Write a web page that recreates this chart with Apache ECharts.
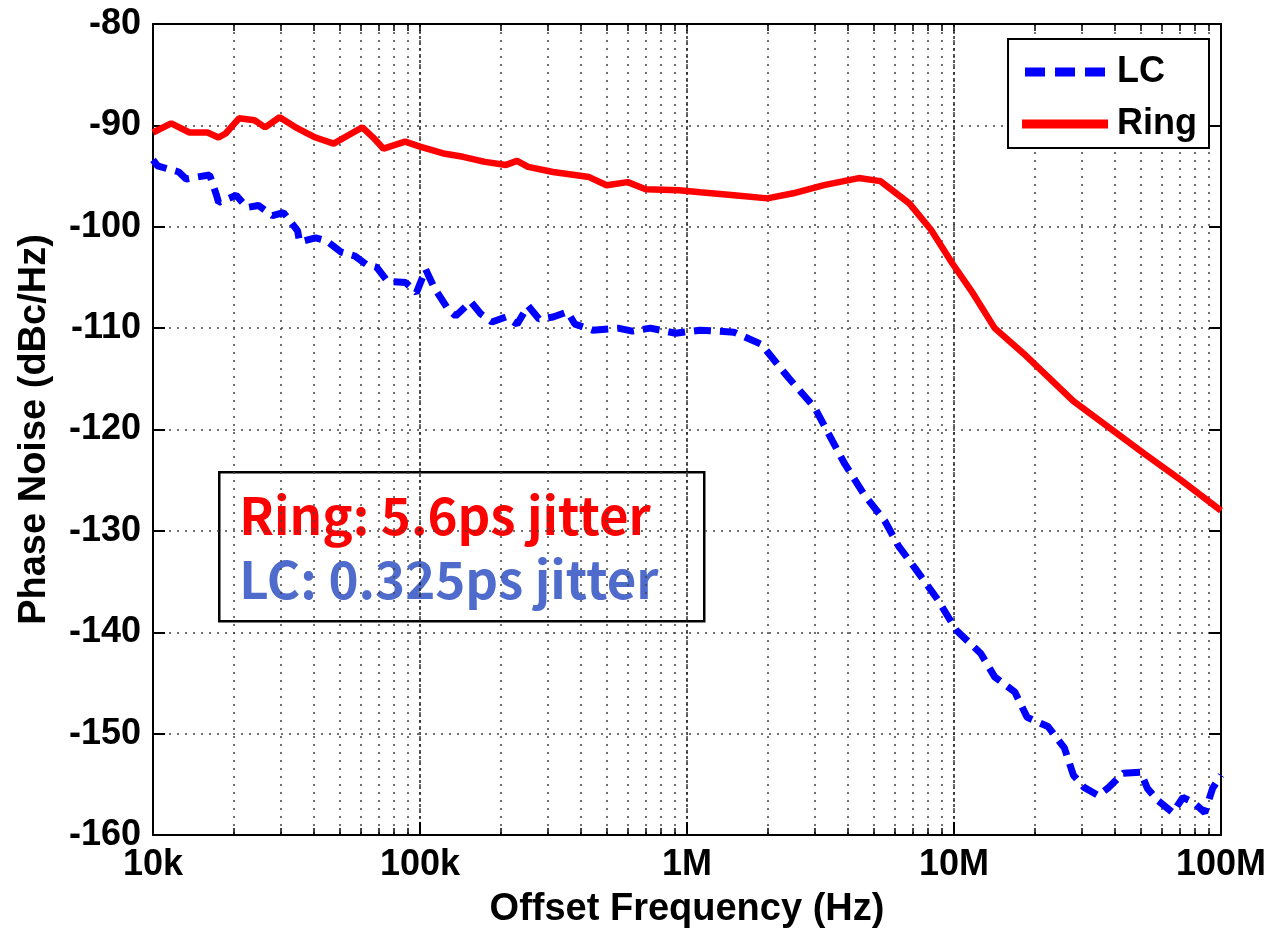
<!DOCTYPE html>
<html>
<head>
<meta charset="utf-8">
<script src="https://cdn.jsdelivr.net/npm/echarts@6/dist/echarts.min.js"></script>
<style>html,body{margin:0;padding:0;background:#fff}#c{width:1272px;height:929px}</style>
</head>
<body>
<div id="c"></div>
<script>
// ---- data ----
const ringFreq = [10000,11700,13700,16000,17600,18700,21000,24000,26300,29800,34800,40600,47500,53700,60800,66800,73000,88000,100000,124000,145000,175000,210000,231000,254000,315000,430000,500000,600000,700000,933000,1120000,1500000,2000000,2500000,3260000,4400000,5300000,6800000,8200000,9850000,11800000,14200000,18200000,28000000,38000000,51700000,70000000,100000000];
const ringDb = [-90.7,-89.8,-90.7,-90.7,-91.2,-90.8,-89.3,-89.5,-90.2,-89.2,-90.3,-91.2,-91.8,-91.0,-90.2,-91.2,-92.3,-91.6,-92.1,-92.8,-93.1,-93.6,-93.9,-93.5,-94.1,-94.6,-95.1,-95.9,-95.6,-96.3,-96.4,-96.6,-96.9,-97.2,-96.7,-95.9,-95.2,-95.5,-97.7,-100.3,-103.6,-106.6,-110.0,-112.5,-117.2,-119.8,-122.4,-124.9,-128.0];
const lcFreq = [10000,10400,12500,13300,14600,16300,17300,17600,20500,22500,24800,28000,30800,34800,35400,40600,44700,50600,57100,62800,68900,75700,88300,97000,105000,113000,128000,136000,155000,169000,186000,210000,231000,254000,279000,315000,357000,380000,444000,551000,624000,728000,906000,1120000,1500000,1900000,2400000,3000000,3500000,3900000,4600000,5500000,6200000,7200000,8700000,10200000,12600000,14200000,16900000,18800000,22500000,25900000,28000000,30700000,34700000,38000000,43000000,50000000,53000000,58000000,66000000,72000000,79000000,87000000,93000000,100000000];
const lcDb = [-93.4,-94.0,-94.6,-95.3,-95.1,-94.9,-96.9,-97.6,-96.9,-98.1,-97.9,-98.9,-98.6,-100.4,-101.5,-101.1,-101.4,-102.5,-102.9,-103.7,-104.0,-105.4,-105.5,-106.5,-104.2,-106.0,-108.2,-108.8,-107.4,-108.6,-109.4,-108.9,-109.6,-107.8,-109.1,-108.9,-108.4,-109.6,-110.2,-110.0,-110.3,-110.0,-110.5,-110.2,-110.4,-111.6,-114.9,-117.8,-121.1,-123.4,-126.4,-129.0,-131.5,-133.8,-136.8,-139.8,-142.1,-144.4,-145.9,-148.4,-149.3,-151.4,-154.1,-155.3,-156.1,-155.3,-153.9,-153.8,-155.4,-156.6,-157.8,-156.3,-156.8,-157.8,-155.4,-154.1];
const xTickValues = [10000,100000,1000000,10000000,100000000];
const xTickLabels = ['10k','100k','1M','10M','100M'];
const yMin = -160, yMax = -80, yStep = 10;
const seriesNames = ['LC','Ring'];
const noteLines = ['Ring: 5.6ps jitter','LC: 0.325ps jitter'];

// minor log tick values 2..9 within each decade
const allTicks = [];
for (let d = 0; d < xTickValues.length; d++) {
  allTicks.push(xTickValues[d]);
  if (d < xTickValues.length - 1) for (let k = 2; k <= 9; k++) allTicks.push(xTickValues[d] * k);
}

const FONT = '"Liberation Sans", Arial, sans-serif';
const chart = echarts.init(document.getElementById('c'));
const dotted = {type: [2, 6], color: '#444', width: 1.5};

chart.setOption({
  backgroundColor: '#fff',
  animation: false,
  grid: {left: 153, top: 24, right: 51, bottom: 94, containLabel: false, outerBoundsMode: 'none'},
  legend: {
    right: 63, top: 39, orient: 'vertical',
    data: [
      {name: seriesNames[0], icon: 'path://M0,0h20v9h-20zM30,0h20v9h-20zM60,0h20v9h-20z'},
      {name: seriesNames[1], icon: 'path://M0,0h86v9h-86z'}
    ],
    itemWidth: 86, itemHeight: 9, itemGap: 16,
    padding: [15, 12, 6, 14],
    borderColor: '#000', borderWidth: 2, backgroundColor: '#fff',
    textStyle: {fontFamily: FONT, fontWeight: 'bold', fontSize: 36, color: '#000', padding: [0, 0, 0, 4]}
  },
  xAxis: [
    {
      type: 'log', logBase: 10, min: 1e4, max: 1e8, position: 'bottom',
      name: 'Offset Frequency (Hz)', nameLocation: 'middle', nameGap: 56,
      nameTextStyle: {fontFamily: FONT, fontWeight: 'bold', fontSize: 38, color: '#000'},
      axisLine: {show: true, onZero: false, lineStyle: {color: '#000', width: 2}},
      axisTick: {show: true, inside: true, length: 7, customValues: allTicks, lineStyle: {color: '#000', width: 1.5}},
      axisLabel: {
        show: true, margin: 12, customValues: xTickValues,
        fontFamily: FONT, fontWeight: 'bold', fontSize: 36, color: '#000',
        formatter: v => { const i = xTickValues.findIndex(t => Math.abs(t - v) / t < 1e-6); return i >= 0 ? xTickLabels[i] : ''; }
      },
      splitLine: {show: true, lineStyle: dotted},
      minorTick: {show: false}, minorSplitLine: {show: false}
    },
    {
      type: 'log', logBase: 10, min: 1e4, max: 1e8, position: 'bottom',
      axisLine: {show: false},
      axisTick: {show: true, inside: true, length: 13, customValues: xTickValues, lineStyle: {color: '#000', width: 2}},
      axisLabel: {show: false},
      splitLine: {show: true, lineStyle: {type: [3, 3], color: '#222', width: 1.5}}
    },
    {
      type: 'log', logBase: 10, min: 1e4, max: 1e8, position: 'top',
      axisLine: {show: true, onZero: false, lineStyle: {color: '#000', width: 2}},
      axisTick: {show: true, inside: true, length: 7, customValues: allTicks, lineStyle: {color: '#000', width: 1.5}},
      axisLabel: {show: false}, splitLine: {show: false}
    }
  ],
  yAxis: [
    {
      type: 'value', min: yMin, max: yMax, interval: yStep, position: 'left',
      name: 'Phase Noise (dBc/Hz)', nameLocation: 'middle', nameGap: 99,
      nameTextStyle: {fontFamily: FONT, fontWeight: 'bold', fontSize: 38, color: '#000'},
      axisLine: {show: true, onZero: false, lineStyle: {color: '#000', width: 2}},
      axisTick: {show: true, inside: true, length: 12, lineStyle: {color: '#000', width: 2}},
      axisLabel: {margin: 12, fontFamily: FONT, fontWeight: 'bold', fontSize: 36, color: '#000'},
      splitLine: {show: true, lineStyle: dotted}
    },
    {
      type: 'value', min: yMin, max: yMax, interval: yStep, position: 'right',
      axisLine: {show: true, onZero: false, lineStyle: {color: '#000', width: 2}},
      axisTick: {show: true, inside: true, length: 12, lineStyle: {color: '#000', width: 2}},
      axisLabel: {show: false}, splitLine: {show: false}
    }
  ],
  series: [
    {
      name: 'LC', type: 'line', xAxisIndex: 0, yAxisIndex: 0,
      data: lcFreq.map((f, i) => [f, lcDb[i]]),
      showSymbol: false, symbol: 'none', smooth: false, z: 4,
      lineStyle: {color: '#0000ff', width: 7, type: [17, 9]},
      itemStyle: {color: '#0000ff'}
    },
    {
      name: 'Ring', type: 'line', xAxisIndex: 0, yAxisIndex: 0,
      data: ringFreq.map((f, i) => [f, ringDb[i]]),
      showSymbol: false, symbol: 'none', smooth: false, z: 3,
      lineStyle: {color: '#ff0000', width: 6.5},
      itemStyle: {color: '#ff0000'}
    }
  ],
  graphic: [
    {
      type: 'group', left: 218, top: 471, z: 10,
      children: [
        {type: 'rect', shape: {x: 1, y: 1, width: 485, height: 149}, style: {fill: '#fff', stroke: '#000', lineWidth: 2.5}},
        {type: 'text', x: 21, y: 44, style: {text: noteLines[0], fill: '#ff0000', font: 'bold 51px "Noto Sans CJK KR", "Noto Sans", sans-serif', textVerticalAlign: 'middle'}},
        {type: 'text', x: 21, y: 108, style: {text: noteLines[1], fill: '#4f6bcc', font: 'bold 51px "Noto Sans CJK KR", "Noto Sans", sans-serif', textVerticalAlign: 'middle'}}
      ]
    }
  ]
});
</script>
</body>
</html>
